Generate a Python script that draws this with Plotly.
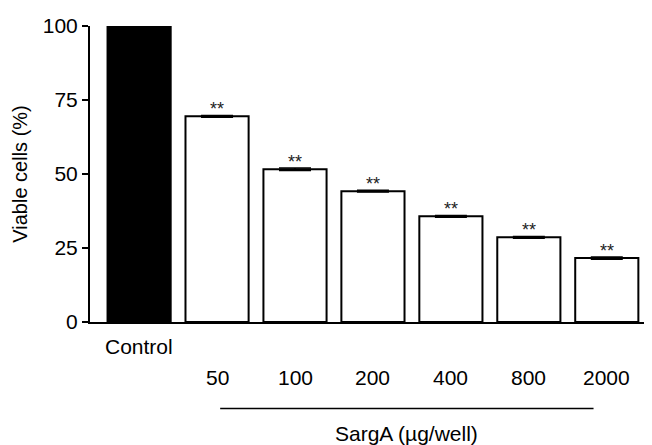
import plotly.graph_objects as go

categories = ["Control", "50", "100", "200", "400", "800", "2000"]
viable = [100, 69.5, 51.6, 44.2, 35.7, 28.6, 21.6]
errors = [0, 0.3, 0.4, 0.3, 0.3, 0.3, 0.4]
signif = ["", "**", "**", "**", "**", "**", "**"]
y_ticks = [0, 25, 50, 75, 100]

FONT = "Liberation Sans, Arial, sans-serif"
xpos = list(range(len(categories)))
colors = ["black"] + ["white"] * (len(categories) - 1)

fig = go.Figure()
fig.add_trace(go.Bar(
    x=xpos, y=viable, width=0.81,
    marker=dict(color=colors, line=dict(color="black", width=2)),
    error_y=dict(type="data", array=errors, visible=True, color="black",
                 thickness=1.5, width=16),
    cliponaxis=False, showlegend=False,
))

annotations = []
for i, (v, e, s) in enumerate(zip(viable, errors, signif)):
    if s:
        annotations.append(dict(x=i, y=v + e, xref="x", yref="y", text=s,
                                showarrow=False, yanchor="bottom", yshift=-6,
                                font=dict(family=FONT, size=18, color="#222")))
for i, c in enumerate(categories):
    yy = -0.084 if i == 0 else -0.189
    annotations.append(dict(x=i, y=yy, xref="x", yref="paper", text=c,
                            showarrow=False, yanchor="middle",
                            font=dict(family=FONT, size=21, color="black")))
annotations.append(dict(x=(1.04 + 5.83) / 2, y=-0.375, xref="x", yref="paper",
                        text="SargA (µg/well)", showarrow=False, yanchor="middle",
                        font=dict(family=FONT, size=21, color="black")))

fig.add_shape(type="line", xref="x", yref="paper", x0=1.04, x1=5.83,
              y0=-0.292, y1=-0.292, line=dict(color="black", width=1.5))

fig.update_layout(
    width=644, height=437,
    margin=dict(l=82, r=0, t=18, b=123),
    plot_bgcolor="white", paper_bgcolor="white",
    annotations=annotations,
    font=dict(family=FONT, size=20, color="black"),
    xaxis=dict(range=[-0.63, 6.58], showticklabels=False, ticks="",
               showline=True, linecolor="black", linewidth=2,
               showgrid=False, zeroline=False),
    yaxis=dict(range=[0, 100], tickvals=y_ticks, ticks="outside", ticklen=6,
               tickwidth=2, tickcolor="black", showline=True,
               linecolor="black", linewidth=2, showgrid=False, zeroline=False,
               tickfont=dict(family=FONT, size=21, color="black"),
               title=dict(text="Viable cells (%)", standoff=10,
                          font=dict(family=FONT, size=20, color="black"))),
)

fig.write_html("out.html")
